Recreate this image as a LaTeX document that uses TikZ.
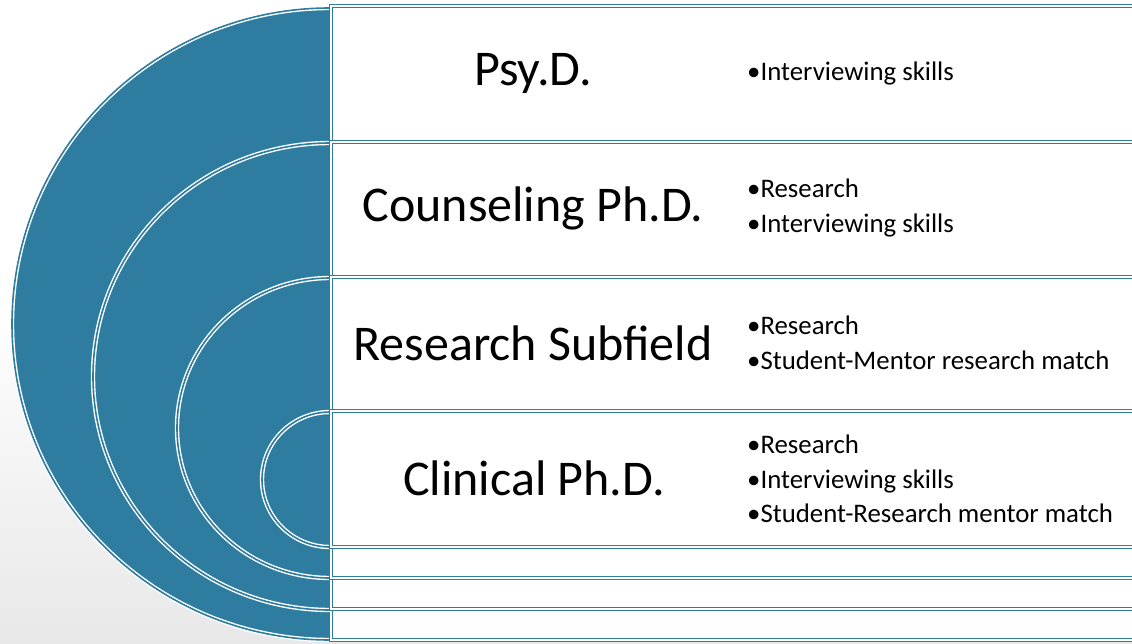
\documentclass[tikz,border=0pt]{standalone}
\usepackage{fontspec}
\setmainfont{Carlito}
\usepackage{xcolor}
\usepackage{tikz}
\usetikzlibrary{positioning}
\definecolor{ringblue}{HTML}{2E7C9F}

\begin{document}
\begin{tikzpicture}[
    x=1pt, y=1pt,
    disc/.style={fill=ringblue},
    ringline/.style={draw=white, double=ringblue, line width=1.4pt, double distance=1.6pt},
    band/.style={fill=white, draw=ringblue, double=white, line width=1.5pt, double distance=1.3pt},
    title/.style={font=\fontsize{50}{60}\selectfont, inner sep=0pt},
    items/.style={font=\fontsize{26.8}{34.5}\selectfont, align=left, anchor=west, inner sep=0pt}
]
\useasboundingbox (0,0) rectangle (1132,-643);
\clip (0,0) rectangle (1132,-643);
\shade[top color=white, bottom color=black!9] (0,-300) rectangle (1132,-643);

% Psy.D.
\fill[disc] (330,-8) arc[start angle=90, end angle=270, x radius=318, y radius=316] -- cycle;
\draw[ringline] (330,-8) arc[start angle=90, end angle=270, x radius=318, y radius=316];
\draw[band] (331,-6) rectangle (1140,-640);
% Counseling Ph.D.
\fill[disc] (330,-143) arc[start angle=90, end angle=270, x radius=237, y radius=233.5] -- cycle;
\draw[ringline] (330,-143) arc[start angle=90, end angle=270, x radius=237, y radius=233.5];
\draw[band] (331,-142) rectangle (1140,-609);
% Research Subfield
\fill[disc] (330,-278) arc[start angle=90, end angle=270, x radius=153, y radius=150] -- cycle;
\draw[ringline] (330,-278) arc[start angle=90, end angle=270, x radius=153, y radius=150];
\draw[band] (331,-277) rectangle (1140,-578);
% Clinical Ph.D.
\fill[disc] (330,-412) arc[start angle=90, end angle=270, x radius=68, y radius=67.5] -- cycle;
\draw[ringline] (330,-412) arc[start angle=90, end angle=270, x radius=68, y radius=67.5];
\draw[band] (331,-411) rectangle (1140,-547);

\node[title] (psyd) at (533,-73) {Psy.D.};
\node[title] (counsel) at (533,-208) {Counseling Ph.D.};
\node[title] (subfield) at (533,-343) {Research Subfield};
\node[title] (clinical) at (534,-478) {Clinical Ph.D.};

\node[items] (psyitems) at (747,-73) {•Interviewing skills};
\node[items] (counselitems) at (747,-208) {•Research\\•Interviewing skills};
\node[items] (subfielditems) at (747,-343) {•Research\\•Student-Mentor research match};
\node[items] (clinicalitems) at (747,-479) {•Research\\•Interviewing skills\\•Student-Research mentor match};
\end{tikzpicture}
\end{document}
